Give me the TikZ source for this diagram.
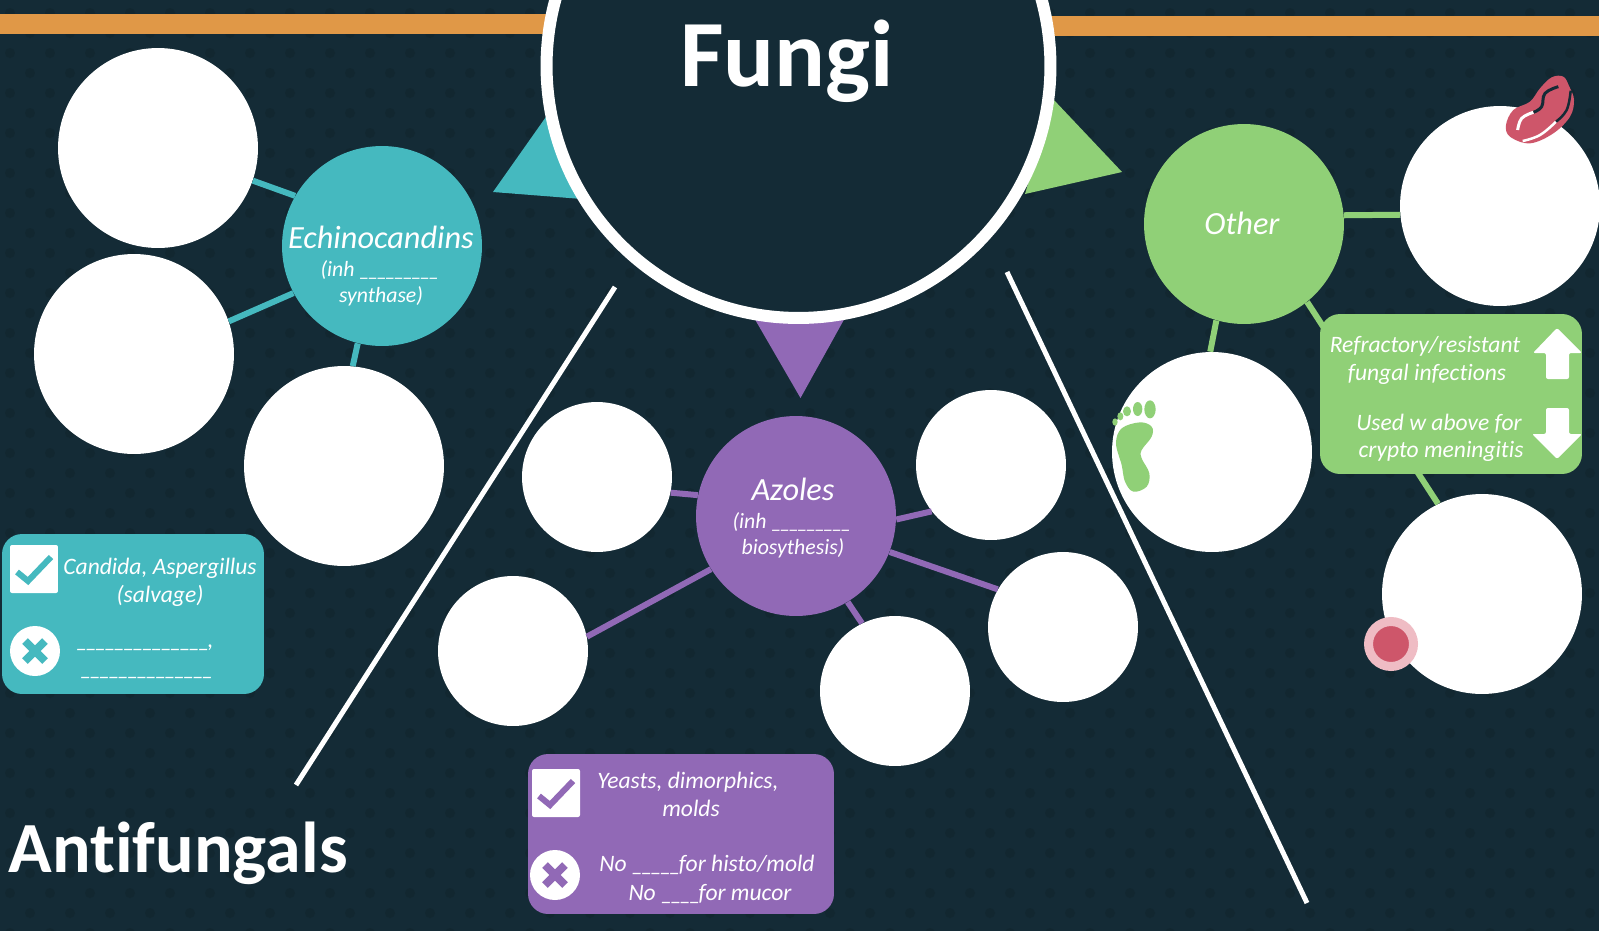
\documentclass[tikz,border=0pt]{standalone}
\usepackage{fontspec}
\setmainfont[Ligatures=NoCommon]{Carlito}
\definecolor{boardbg}{HTML}{142B36}
\definecolor{boarddot}{HTML}{122730}
\definecolor{barorange}{HTML}{E09847}
\definecolor{echteal}{HTML}{45B9BF}
\definecolor{azpurple}{HTML}{9169B6}
\definecolor{othgreen}{HTML}{90D077}
\definecolor{lipred}{HTML}{CE566A}
\definecolor{lippink}{HTML}{EFBCC4}
\newcommand{\us}{\_\kern-.1em}
\newcommand{\tickbox}[4]{% name, x, y, colour
	\node[rectangle,fill=white,rounded corners=.04cm,minimum size=.96cm,inner sep=0] (#1) at (#2,#3) {};
	\draw[#4,line width=.12cm] ($(#1)+(-17,3)$) -- ($(#1)+(-6,12)$) -- ($(#1)+(17,-12)$);
}
\newcommand{\crossdisc}[4]{% name, x, y, colour
	\node[circle,fill=white,minimum size=1cm,inner sep=0] (#1) at (#2,#3) {};
	\draw[#4,line width=.16cm] ($(#1)+(-10,-10)$) -- ($(#1)+(10,10)$) ($(#1)+(-10,10)$) -- ($(#1)+(10,-10)$);
}
\usetikzlibrary{calc}
\begin{document}
\begin{tikzpicture}[x=.02cm,y=-.02cm,
	bigdisc/.style={circle,fill=white,minimum size=4cm,inner sep=0},
	smalldisc/.style={circle,fill=white,minimum size=3cm,inner sep=0},
	drugdisc/.style={circle,fill=#1,minimum size=4cm,inner sep=0},
	spoke/.style={#1,line width=.12cm},
	slash/.style={white,line width=.1cm},
	infobox/.style={rectangle,fill=#1,rounded corners=.4cm,inner sep=0},
	say/.style={text=white,inner sep=0,font=\fontsize{13.4}{13.4}\selectfont\itshape},
	saysmall/.style={text=white,inner sep=0,font=\fontsize{12.4}{12.4}\selectfont\itshape},
	drugname/.style={text=white,inner sep=0,font=\fontsize{18.4}{18.4}\selectfont\itshape}]
	\useasboundingbox (0,0) rectangle (1599,930);
	\fill[boardbg] (-10,-10) rectangle (1609,950);
	% dotted board
	\foreach \r in {0,...,46}{
		\pgfmathsetmacro{\rowx}{mod(\r,2)==0 ? 10 : 30}
		\foreach \c in {0,...,39}
			\fill[boarddot] (\rowx+40*\c,13+20*\r) circle (.1cm);
	}
	\fill[barorange] (-10,14) rectangle (560,34);
	\fill[barorange] (1040,16) rectangle (1609,36);
	\coordinate (slashla) at (615,287);
	\coordinate (slashlb) at (296,785);
	\coordinate (slashra) at (1007,272);
	\coordinate (slashrb) at (1307,903);
	\draw[slash] (slashla) -- (slashlb);
	\draw[slash] (slashra) -- (slashrb);
	% pointers from the title
	\fill[echteal] (493,192) -- (548,114) -- (620,202) -- cycle;
	\fill[azpurple] (753,316) -- (800.5,398) -- (846,316) -- cycle;
	\fill[othgreen] (1053,99) -- (1122,172) -- (1025,194) -- cycle;
	\node[circle,fill=boardbg,draw=white,line width=.24cm,minimum size=10.08cm,inner sep=0] (fungi) at (798.5,66) {};
	\node[text=white,inner sep=0,font=\fontsize{54}{54}\selectfont\bfseries,anchor=base] (fungititle) at (787,86) {Fungi};
	\node[text=white,inner sep=0,font=\fontsize{41}{41}\selectfont\bfseries,anchor=base west] (antifungals) at (8,872) {Antifungals};
	% echinocandins
	\node[drugdisc=echteal] (echino) at (382,246) {};
	\foreach \name/\x/\y/\from/\to in {echa/158/148/150/-19,echb/134/354/208/19,echc/344/466/-104/85}{
		\node[bigdisc] (\name) at (\x,\y) {};
		\draw[spoke=echteal] (echino.\from) -- (\name.\to);
	}
	\node[drugname] (echinoname) at (381,237) {Echinocandins};
	\node[saysmall] (echinoinh) at (379,270) {(inh \us\us\us\us\us\us\us\us\us};
	\node[saysmall] (echinosyn) at (381,296) {synthase)};
	% azoles
	\node[drugdisc=azpurple] (azole) at (796,516) {};
	\foreach \name/\x/\y/\from/\to in {aza/597/477/168/-12,azb/991/465/-2/218,azc/1063/627/-21/150,azd/895/691/-59/116,aze/513/651/212/11}{
		\node[smalldisc] (\name) at (\x,\y) {};
		\draw[spoke=azpurple] (azole.\from) -- (\name.\to);
	}
	\node[drugname] (azolename) at (793,489) {Azoles};
	\node[saysmall] (azoleinh) at (791,522) {(inh \us\us\us\us\us\us\us\us\us};
	\node[saysmall] (azolebio) at (793,548) {biosythesis)};
	% other
	\node[drugdisc=othgreen] (other) at (1244,224) {};
	\node[drugname] (othername) at (1242,223) {Other};
	\node[bigdisc] (otha) at (1500,206) {};
	\node[bigdisc] (othb) at (1212,452) {};
	\node[bigdisc] (othc) at (1482,594) {};
	\draw[spoke=othgreen] (other.5) -- (otha.185);
	\draw[spoke=othgreen] (other.-106) -- (othb.91);
	\draw[spoke=othgreen] (other.-51) -- (othc.116);
	% teal box
	\node[infobox=echteal,minimum width=5.24cm,minimum height=3.2cm] (echbox) at (133,614) {};
	\tickbox{echtick}{34}{569}{echteal}
	\crossdisc{echcross}{35}{651}{echteal}
	\node[say] (echyesa) at (160,568) {Candida, Aspergillus};
	\node[say] (echyesb) at (160,596) {(salvage)};
	\node[say] (echnoa) at (145,648) {\us\us\us\us\us\us\us\us\us\us\us\us\us\us,};
	\node[say] (echnob) at (146,677) {\us\us\us\us\us\us\us\us\us\us\us\us\us\us};
	% purple box
	\node[infobox=azpurple,minimum width=6.12cm,minimum height=3.2cm] (azbox) at (681,834) {};
	\tickbox{aztick}{556}{793}{azpurple}
	\crossdisc{azcross}{555}{875}{azpurple}
	\node[say] (azyesa) at (688,782) {Yeasts, dimorphics,};
	\node[say] (azyesb) at (691,808) {molds};
	\node[say] (aznoa) at (707,865) {No \us\us\us\us\us for histo/mold};
	\node[say] (aznob) at (710,894) {No \us\us\us\us for mucor};
	% green box
	\node[infobox=othgreen,minimum width=5.24cm,minimum height=3.2cm] (othbox) at (1451,394) {};
	\node[say] (othupa) at (1425,346) {Refractory/resistant};
	\node[say] (othupb) at (1427,374) {fungal infections};
	\node[say] (othdowna) at (1439,424) {Used w above for};
	\node[say] (othdownb) at (1441,451) {crypto meningitis};
	\fill[white,rounded corners=.04cm] (1557,328) -- (1582,353) -- (1569,353) -- (1569,379) -- (1546,379) -- (1546,353) -- (1533,353) -- cycle;
	\fill[white,rounded corners=.04cm] (1557,459) -- (1582,434) -- (1569,434) -- (1569,408) -- (1546,408) -- (1546,434) -- (1532,434) -- cycle;
	% lips
	\begin{scope}[shift={(1300,60)},scale=1/3]
		\fill[lipred] plot[smooth cycle,tension=.6] coordinates {(618,195) (640,150) (690,125) (720,85) (755,52) (790,50) (808,80) (822,120) (810,170) (760,220) (690,250) (630,230)};
		\draw[boardbg,line width=.06cm] plot[smooth,tension=.7] coordinates {(775,80) (735,100) (725,140) (700,157)};
		\draw[white,line width=.06cm] plot[smooth,tension=.7] coordinates {(700,157) (665,175) (653,210)};
		\draw[white,line width=.05cm] plot[smooth,tension=.7] coordinates {(668,243) (720,225) (768,185)};
		\draw[boardbg,line width=.05cm] plot[smooth,tension=.7] coordinates {(768,185) (800,150) (812,92)};
	\end{scope}
	% foot
	\begin{scope}[shift={(1090,380)},scale=1/3]
		\fill[othgreen] plot[smooth cycle,tension=.6] coordinates {(78,190) (95,145) (150,127) (185,140) (185,170) (155,210) (155,235) (178,280) (170,320) (130,335) (105,305) (95,255)};
		\fill[othgreen] (180,88) ellipse (17 and 27);
		\fill[othgreen] (143,87) ellipse (14 and 21);
		\fill[othgreen] (111,94) ellipse (12 and 15);
		\fill[othgreen] (91,109) ellipse (9 and 12);
		\fill[othgreen] (75,126) ellipse (8 and 11);
	\end{scope}
	% spot
	\node[circle,fill=lipred,draw=lippink,line width=.18cm,minimum size=.9cm,inner sep=0] (spot) at (1391,644) {};
\end{tikzpicture}
\end{document}
